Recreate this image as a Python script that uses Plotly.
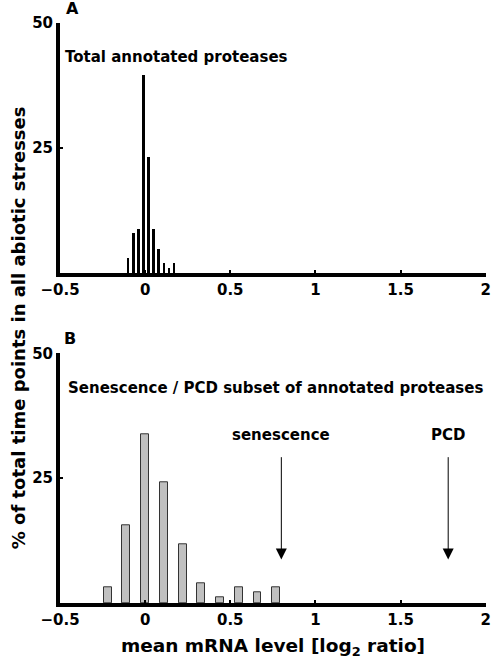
import plotly.graph_objects as go

# ---- data ----
a_bins = [-0.10, -0.07, -0.04, -0.01, 0.02, 0.05, 0.08, 0.11, 0.14, 0.17]
a_pct = [3.1, 8.0, 8.8, 39.6, 23.3, 8.8, 5.0, 2.2, 1.2, 2.2]

b_bins = [-0.22, -0.11, 0.0, 0.11, 0.22, 0.33, 0.44, 0.55, 0.66, 0.77]
b_pct = [3.1, 15.5, 33.8, 24.2, 11.7, 4.0, 1.2, 3.1, 2.1, 3.1]

x_ticks = [-0.5, 0, 0.5, 1, 1.5, 2]
x_tick_text = ["\u22120.5", "0", "0.5", "1", "1.5", "2"]
y_ticks = [25, 50]

arrow_labels = ["senescence", "PCD"]
arrow_x = [0.8, 1.78]

FONT = "DejaVu Sans, Liberation Sans, Arial, sans-serif"

fig = go.Figure()
fig.add_trace(go.Bar(x=a_bins, y=a_pct, width=0.0155, marker=dict(color="black", line=dict(width=0)),
                     xaxis="x", yaxis="y", showlegend=False))
fig.add_trace(go.Bar(x=b_bins, y=b_pct, width=0.046,
                     marker=dict(color="#c0c0c0", line=dict(color="#333333", width=1)),
                     xaxis="x2", yaxis="y2", showlegend=False))

axis_common = dict(showline=True, linewidth=4, linecolor="black", ticks="inside", ticklen=3,
                   tickwidth=2, tickcolor="black", showgrid=False, zeroline=False,
                   tickfont=dict(family=FONT, size=15, color="black", weight="bold"))

fig.update_layout(
    width=498, height=665,
    margin=dict(l=60, r=7, t=22, b=62),
    plot_bgcolor="white", paper_bgcolor="white",
    bargap=0,
    xaxis=dict(domain=[0, 1], anchor="y", range=[-0.5, 2.002], tickvals=x_ticks, ticktext=x_tick_text, **axis_common),
    yaxis=dict(domain=[0.5675, 0.9988], anchor="x", range=[0, 50], tickvals=y_ticks, **axis_common),
    xaxis2=dict(domain=[0, 1], anchor="y2", range=[-0.5, 2.002], tickvals=x_ticks, ticktext=x_tick_text,
                title=dict(text="mean mRNA level [log<sub>2</sub> ratio]",
                           font=dict(family=FONT, size=18.5, color="black", weight="bold"), standoff=12),
                **axis_common),
    yaxis2=dict(domain=[0, 0.4298], anchor="x2", range=[0, 50], tickvals=y_ticks, **axis_common),
)

def tfont(size):
    return dict(family=FONT, size=size, color="black", weight="bold")

ann = []
ann.append(dict(text="A", x=0.009, y=1.0224, xref="paper", yref="paper", xanchor="left", yanchor="middle",
                showarrow=False, font=tfont(16)))
ann.append(dict(text="B", x=0.005, y=0.4544, xref="paper", yref="paper", xanchor="left", yanchor="middle",
                showarrow=False, font=tfont(16)))
ann.append(dict(text="Total annotated proteases", x=0.007, y=0.9398, xref="paper", yref="paper",
                xanchor="left", yanchor="middle", showarrow=False, font=tfont(15)))
ann.append(dict(text="Senescence / PCD subset of annotated proteases", x=0.014, y=0.370,
                xref="paper", yref="paper", xanchor="left", yanchor="middle", showarrow=False, font=tfont(15)))
for lbl, xv in zip(arrow_labels, arrow_x):
    ann.append(dict(text=lbl, x=xv, y=33.7, xref="x2", yref="y2", xanchor="center", yanchor="middle",
                    showarrow=False, font=tfont(15)))
    ann.append(dict(text="", x=xv, y=8.7, xref="x2", yref="y2", ax=xv, ay=29.5, axref="x2", ayref="y2",
                    showarrow=True, arrowhead=2, arrowsize=2.2, arrowwidth=1, arrowcolor="black"))
ann.append(dict(text="% of total time points in all abiotic stresses", x=-0.097, y=0.474,
                xref="paper", yref="paper", xanchor="center", yanchor="middle", textangle=-90,
                showarrow=False, font=tfont(18)))
fig.update_layout(annotations=ann)

fig.write_html("out.html", config={"displayModeBar": False},
               post_script="document.body.style.margin='0';")
